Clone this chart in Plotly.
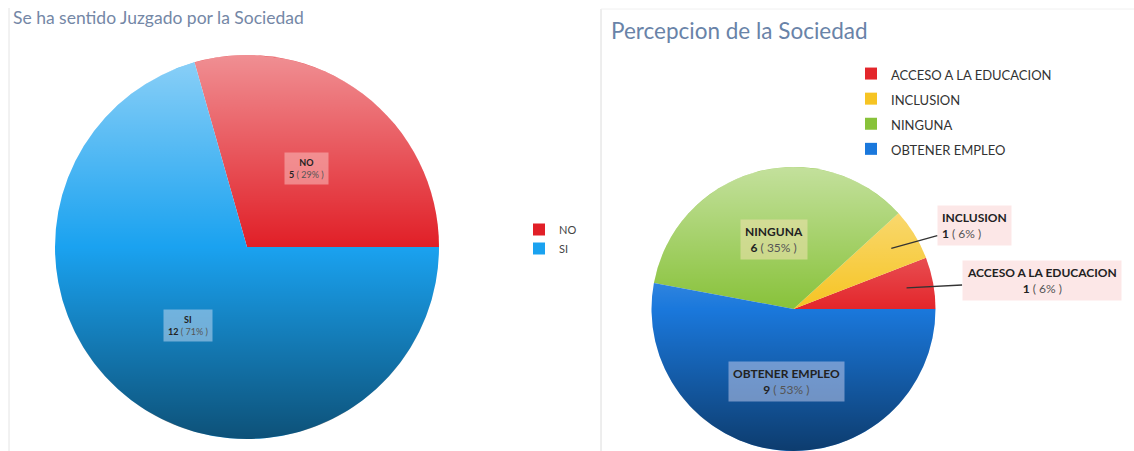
import math, base64
import plotly.graph_objects as go

# ---------------- data ----------------
left_title = "Se ha sentido Juzgado por la Sociedad"
left_labels = ["NO", "SI"]
left_values = [5, 12]
left_colors = ["#e11f27", "#1aa2f0"]

right_title = "Percepcion de la Sociedad"
right_labels = ["ACCESO A LA EDUCACION", "INCLUSION", "NINGUNA", "OBTENER EMPLEO"]
right_values = [1, 1, 6, 9]
right_colors = ["#e3262b", "#f6c423", "#88c23a", "#1a78dc"]

W, H = 1134, 451
FONT = "Lato"

def px2x(p):
    return p / W

def px2y(p):
    return 1 - p / H

# pie domains in pixels
L_dom = dict(x0=55, x1=439, y0=55, y1=439)
R_dom = dict(x0=651, x1=936, y0=167, y1=451)

def geom(d):
    cx = (d["x0"] + d["x1"]) / 2
    cy = (d["y0"] + d["y1"]) / 2
    r = min(d["x1"] - d["x0"], d["y1"] - d["y0"]) / 2
    return cx, cy, r

def mids(values):
    tot = sum(values)
    out, acc = [], 0
    for v in values:
        out.append(math.radians((acc + v / 2) / tot * 360))
        acc += v
    return out

def pct(v, values):
    return round(100 * v / sum(values))

def start_rot(values):
    # first slice begins at 3 o'clock and runs counterclockwise
    return 90 - 360 * values[0] / sum(values)

fig = go.Figure()

fig.add_trace(go.Pie(
    labels=left_labels, values=left_values, sort=False, direction="counterclockwise",
    rotation=start_rot(left_values), marker=dict(colors=left_colors, line=dict(width=0)),
    textinfo="none", hoverinfo="label+value+percent",
    domain=dict(x=[px2x(L_dom["x0"]), px2x(L_dom["x1"])], y=[px2y(L_dom["y1"]), px2y(L_dom["y0"])]),
    legend="legend", showlegend=True,
))

fig.add_trace(go.Pie(
    labels=[f"<span style='font-size:13px'>{l}</span>" for l in right_labels],
    values=right_values, sort=False, direction="counterclockwise",
    rotation=start_rot(right_values), marker=dict(colors=right_colors, line=dict(width=0)),
    textinfo="none", hoverinfo="value+percent",
    domain=dict(x=[px2x(R_dom["x0"]), px2x(R_dom["x1"])], y=[max(0, px2y(R_dom["y1"])), px2y(R_dom["y0"])]),
    legend="legend2", showlegend=True,
))

annotations = []
# titles
annotations.append(dict(text=left_title, x=px2x(11), y=px2y(17), xref="paper", yref="paper",
                        xanchor="left", yanchor="middle", showarrow=False,
                        font=dict(family=FONT, size=17.5, color="#7487a6")))
annotations.append(dict(text=right_title, x=px2x(609), y=px2y(30), xref="paper", yref="paper",
                        xanchor="left", yanchor="middle", showarrow=False,
                        font=dict(family=FONT, size=22.5, color="#6983a8")))

# inside labels left pie
cx, cy, r = geom(L_dom)
lbg = ["rgba(250,190,190,0.55)", "rgba(190,215,240,0.55)"]
for lab, v, a, bg in zip(left_labels, left_values, mids(left_values), lbg):
    x = cx + 0.51 * r * math.cos(a)
    y = cy - 0.51 * r * math.sin(a)
    annotations.append(dict(
        text=f"<b>{lab}</b><br><b>{v}</b> <span style='color:#555'>( {pct(v, left_values)}% )</span>",
        x=px2x(x), y=px2y(y), xref="paper", yref="paper", showarrow=False,
        xanchor="center", yanchor="middle",
        bgcolor=bg, borderpad=4, font=dict(family=FONT, size=9, color="#222")))

# right pie labels
cx, cy, r = geom(R_dom)
rm = mids(right_values)
inside_bg = {"NINGUNA": "rgba(235,225,170,0.6)", "OBTENER EMPLEO": "rgba(190,200,235,0.55)"}
outside = {"INCLUSION": (83, -23, "left"), "ACCESO A LA EDUCACION": (135, -7, "center")}
for lab, v, a in zip(right_labels, right_values, rm):
    body = f"<b>{lab}</b><br><b>{v}</b> <span style='color:#555'>( {pct(v, right_values)}% )</span>"
    if lab in inside_bg:
        x = cx + 0.51 * r * math.cos(a)
        y = cy - 0.51 * r * math.sin(a)
        annotations.append(dict(text=body, x=px2x(x), y=px2y(y), xref="paper", yref="paper",
                                showarrow=False, xanchor="center", yanchor="middle",
                                bgcolor=inside_bg[lab], borderpad=4,
                                font=dict(family=FONT, size=12, color="#222")))
    else:
        ax, ay, al = outside[lab]
        x = cx + 0.81 * r * math.cos(a)
        y = cy - 0.81 * r * math.sin(a)
        annotations.append(dict(text=body, x=px2x(x), y=px2y(y), xref="paper", yref="paper",
                                showarrow=True, arrowhead=0, arrowwidth=1.3, arrowcolor="#333",
                                ax=ax, ay=ay, align=al, bgcolor="rgba(252,228,228,0.9)", borderpad=4,
                                font=dict(family=FONT, size=12, color="#222")))

# gradient overlay (shading like the original)
svg = ("<svg xmlns='http://www.w3.org/2000/svg' viewBox='0 0 100 100' preserveAspectRatio='none'>"
       "<defs><linearGradient id='g' x1='0' y1='0' x2='0' y2='1'>"
       "<stop offset='0' stop-color='#fff' stop-opacity='0.5'/>"
       "<stop offset='0.5' stop-color='#fff' stop-opacity='0'/>"
       "<stop offset='0.5' stop-color='#000' stop-opacity='0'/>"
       "<stop offset='1' stop-color='#000' stop-opacity='0.5'/>"
       "</linearGradient></defs><circle cx='50' cy='50' r='50' fill='url(#g)'/></svg>")
src = "data:image/svg+xml;base64," + base64.b64encode(svg.encode()).decode()
images = []
for d in (L_dom, R_dom):
    cx, cy, r = geom(d)
    images.append(dict(source=src, xref="paper", yref="paper", x=px2x(cx - r), y=px2y(cy - r),
                       sizex=2 * r / W, sizey=2 * r / H, xanchor="left", yanchor="top",
                       sizing="stretch", layer="above"))

shapes = [
    dict(type="line", xref="paper", yref="paper", x0=px2x(9), x1=px2x(9), y0=0, y1=px2y(8),
         line=dict(color="#e4e4e4", width=1)),
    dict(type="line", xref="paper", yref="paper", x0=px2x(601), x1=px2x(601), y0=0, y1=px2y(9),
         line=dict(color="#dcdcdc", width=1)),
    dict(type="line", xref="paper", yref="paper", x0=px2x(601), x1=1, y0=px2y(9), y1=px2y(9),
         line=dict(color="#f0f0f0", width=1)),
]

fig.update_layout(
    width=W, height=H, margin=dict(l=0, r=0, t=0, b=0),
    paper_bgcolor="white", plot_bgcolor="white",
    font=dict(family=FONT, color="#333"),
    annotations=annotations, images=images, shapes=shapes,
    legend=dict(x=px2x(519), y=px2y(215), xanchor="left", yanchor="top",
                font=dict(family=FONT, size=11, color="#444"), bgcolor="rgba(0,0,0,0)"),
    legend2=dict(x=px2x(851), y=px2y(56), xanchor="left", yanchor="top",
                 font=dict(family=FONT, size=17, color="#333"), bgcolor="rgba(0,0,0,0)"),
)

fig.write_html("out.html", config={"displayModeBar": False},
               post_script="document.body.style.margin='0';")
